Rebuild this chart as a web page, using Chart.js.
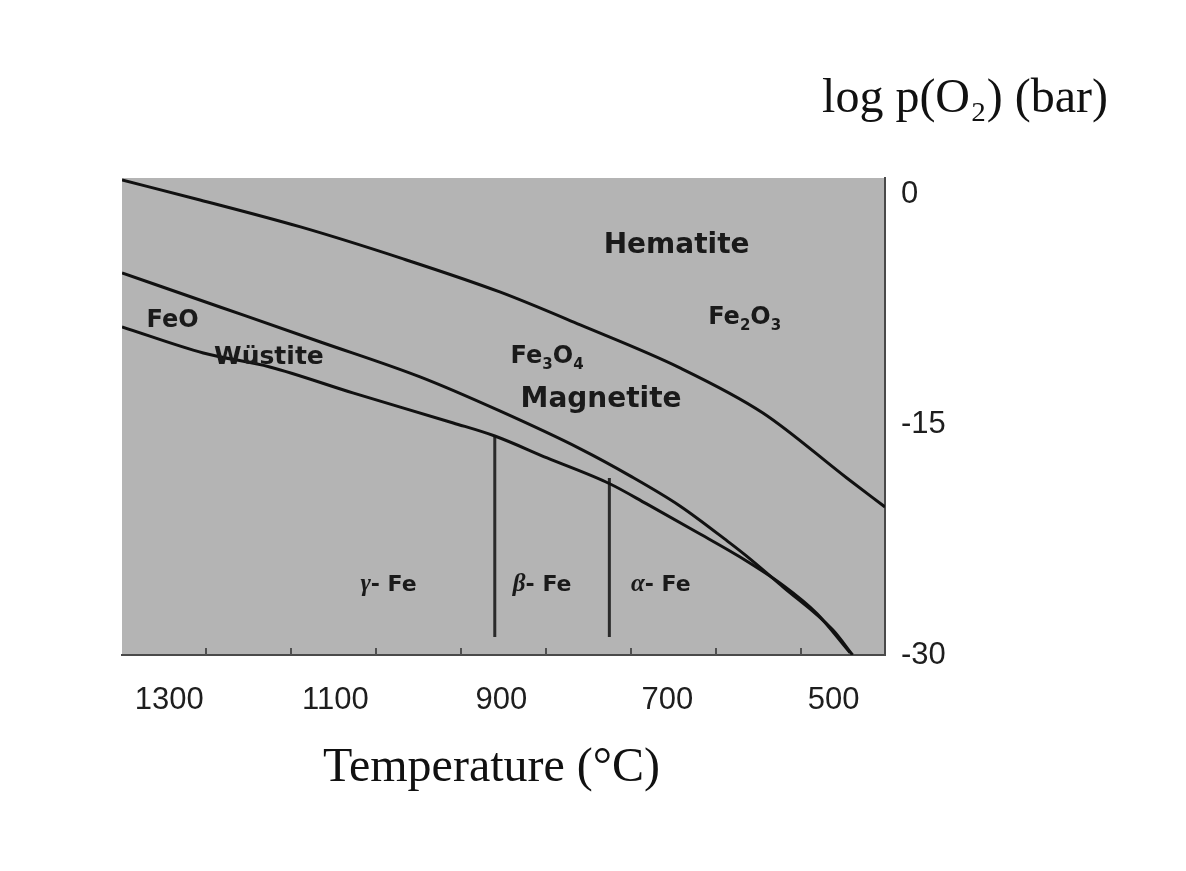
<!DOCTYPE html>
<html><head><meta charset="utf-8">
<script src="https://cdn.jsdelivr.net/npm/chart.js@4"></script>
<style>html,body{margin:0;padding:0;background:#fff}#wrap{width:1186px;height:871px}</style>
</head><body><div id="wrap"><canvas id="c" width="1186" height="871"></canvas></div>
<script>
// ---- data ----
const xTickValues = [1300, 1100, 900, 700, 500];
const yTickValues = [0, -15, -30];
const xTickMarks = [1256, 1153, 1051, 949, 846, 744, 642, 539];

// Hematite / Magnetite boundary
const hematiteT    = [1357, 1263, 1142, 1022, 902, 805, 685, 585, 484, 438];
const hematiteLogP = [0.97, -0.33, -2.09, -4.11, -6.33, -8.48, -11.28, -14.22, -18.46, -20.35];

// Magnetite / Wüstite (then Magnetite / Fe) boundary
const magnetiteT    = [1357, 1239, 1118, 998, 902, 805, 745, 685, 625, 605, 561, 501, 477];
const magnetiteLogP = [-5.09, -7.31, -9.59, -11.87, -14.09, -16.56, -18.32, -20.28, -22.69, -23.54, -25.56, -28.36, -30.0];

// Wüstite / Fe boundary
const ironT    = [1357, 1259, 1179, 1079, 958, 908, 845, 769, 725, 665, 613, 561, 520, 480];
const ironLogP = [-8.61, -10.31, -11.22, -12.91, -14.87, -15.72, -17.15, -18.85, -20.15, -21.98, -23.60, -25.45, -27.30, -29.85];

// Iron phase transitions (vertical lines)
const betaGammaT    = [908, 908];
const betaGammaLogP = [-15.72, -28.83];
const alphaBetaT    = [770, 770];
const alphaBetaLogP = [-18.46, -28.83];

// Region labels ("_" marks a subscript character)
const labelTexts = ['Hematite', 'Fe_2O_3', 'Fe_3O_4', 'Magnetite', 'FeO', 'Wüstite', 'γ- Fe', 'β- Fe', 'α- Fe'];
const labelT     = [689, 607, 845, 780, 1296, 1180, 1036, 851, 708];
const labelLogP  = [-3.14, -7.83, -10.37, -13.17, -8.02, -10.44, -25.30, -25.30, -25.30];
const labelSizes = [28, 24, 24, 28, 24, 25, 22, 22, 22];

const pts = (xs, ys) => xs.map((x, i) => ({x, y: ys[i]}));

function drawRich(ctx, text, cx, cy, size) {
  const runs = [];
  for (let i = 0; i < text.length; i++) {
    const ch = text[i];
    if (ch === '_') { runs.push({t: text[++i], sub: true, greek: false}); continue; }
    const greek = /[\u0370-\u03FF]/.test(ch);
    const last = runs[runs.length - 1];
    if (last && !last.sub && last.greek === greek) last.t += ch;
    else runs.push({t: ch, sub: false, greek});
  }
  const fontFor = r => r.sub ? `bold ${Math.round(size * 0.62)}px "DejaVu Sans", sans-serif`
    : r.greek ? `italic bold ${Math.round(size * 1.15)}px "Liberation Serif", serif`
    : `bold ${size}px "DejaVu Sans", sans-serif`;
  let w = 0;
  runs.forEach(r => { ctx.font = fontFor(r); r.w = ctx.measureText(r.t).width; w += r.w; });
  let x = cx - w / 2;
  const base = cy + size * 0.36;
  ctx.textAlign = 'left';
  ctx.textBaseline = 'alphabetic';
  runs.forEach(r => { ctx.font = fontFor(r); ctx.fillText(r.t, x, base + (r.sub ? size * 0.25 : 0)); x += r.w; });
}

const plotBg = {
  id: 'plotBg',
  beforeDraw(chart) {
    const {ctx, chartArea: a} = chart;
    ctx.save();
    ctx.fillStyle = '#b4b4b4';
    ctx.fillRect(a.left, a.top, a.right - a.left, a.bottom - a.top);
    ctx.restore();
  }
};

const innerTicks = {
  id: 'innerTicks',
  afterDraw(chart) {
    const {ctx, chartArea: a, scales: {x}} = chart;
    ctx.save();
    ctx.strokeStyle = '#505050';
    ctx.lineWidth = 2;
    xTickMarks.forEach(v => {
      const px = Math.round(x.getPixelForValue(v));
      ctx.beginPath(); ctx.moveTo(px, a.bottom); ctx.lineTo(px, a.bottom - 7); ctx.stroke();
    });
    ctx.restore();
  }
};

const regionText = {
  id: 'regionText',
  afterDatasetsDraw(chart) {
    const {ctx, scales: {x, y}} = chart;
    ctx.save();
    ctx.fillStyle = '#1a1a1a';
    labelTexts.forEach((t, i) => {
      drawRich(ctx, t, x.getPixelForValue(labelT[i]), y.getPixelForValue(labelLogP[i]), labelSizes[i]);
    });
    ctx.restore();
  }
};

const curve = (data, color, width) => ({
  data, borderColor: color, borderWidth: width, pointRadius: 0,
  cubicInterpolationMode: 'monotone', fill: false
});
const straight = (data, color, width) => ({
  data, borderColor: color, borderWidth: width, pointRadius: 0, tension: 0, fill: false
});

const axisFont = {family: '"Liberation Sans", Arial, sans-serif', size: 31};
const titleFont = {family: '"Liberation Serif", "Times New Roman", serif', size: 48, weight: 'normal'};

new Chart(document.getElementById('c'), {
  type: 'line',
  data: {
    datasets: [
      curve(pts(hematiteT, hematiteLogP), '#111', 3),
      curve(pts(magnetiteT, magnetiteLogP), '#111', 3),
      curve(pts(ironT, ironLogP), '#111', 3),
      straight(pts(betaGammaT, betaGammaLogP), '#2a2a2a', 3),
      straight(pts(alphaBetaT, alphaBetaLogP), '#2a2a2a', 3)
    ]
  },
  options: {
    responsive: false,
    animation: false,
    devicePixelRatio: 1,
    layout: {padding: {left: 122, right: 78, top: 71, bottom: 0}},
    plugins: {
      legend: {display: false},
      tooltip: {enabled: false},
      title: {
        display: true, text: 'log p(O₂) (bar)', align: 'end', color: '#111',
        font: titleFont, padding: {top: 0, bottom: 49.4}
      }
    },
    scales: {
      x: {
        type: 'linear', reverse: true, min: 438, max: 1357,
        afterBuildTicks: s => { s.ticks = xTickValues.map(v => ({value: v})); },
        afterFit: s => { s.height = 216; },
        grid: {display: true, drawOnChartArea: false, drawTicks: false},
        border: {display: true, color: '#4a4a4a', width: 2},
        ticks: {padding: 27, color: '#1e1e1e', font: axisFont, maxRotation: 0, autoSkip: false, callback: v => String(v)},
        title: {display: true, text: 'Temperature (°C)\u00a0\u00a0', color: '#111', font: titleFont, padding: {top: 0, bottom: 74}}
      },
      y: {
        type: 'linear', position: 'right', min: -30, max: 1.1,
        afterBuildTicks: s => { s.ticks = yTickValues.map(v => ({value: v})); },
        afterFit: s => { s.width = 223; },
        grid: {display: true, drawOnChartArea: false, drawTicks: false},
        border: {display: true, color: '#4a4a4a', width: 2},
        ticks: {padding: 16, color: '#1e1e1e', font: axisFont, autoSkip: false, callback: v => String(v)}
      }
    }
  },
  plugins: [plotBg, innerTicks, regionText]
});
</script>
</body></html>
